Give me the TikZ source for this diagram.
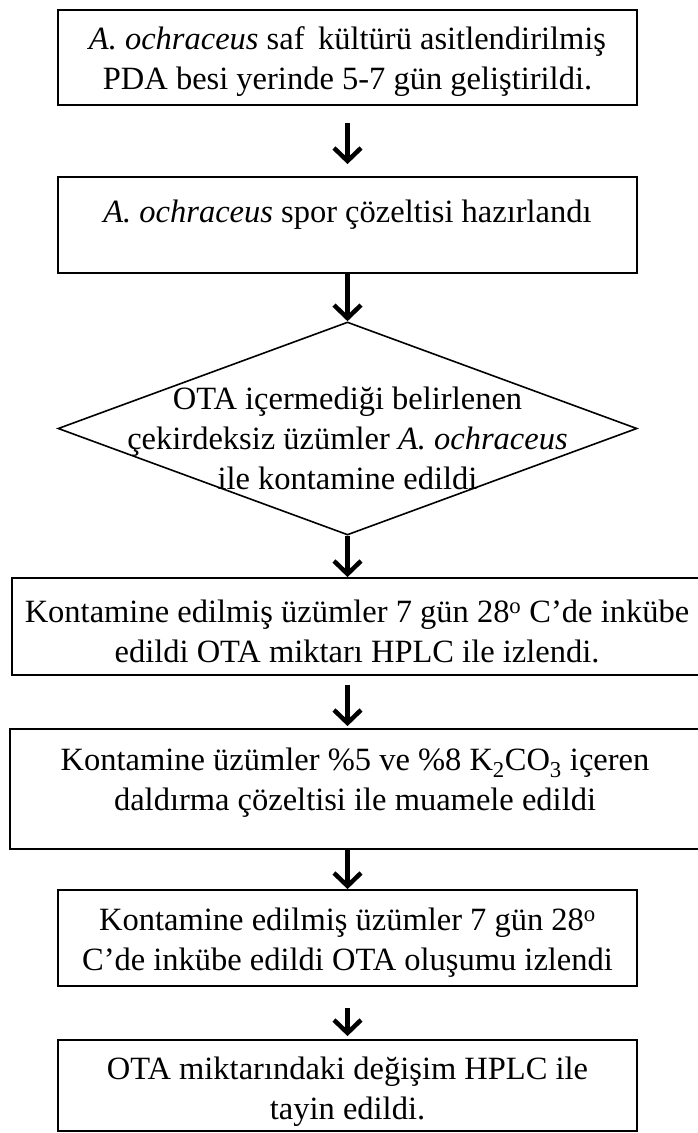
\documentclass[tikz,border=0pt]{standalone}
\usepackage{fontspec}
\setmainfont{Liberation Serif}
\usetikzlibrary{shapes.geometric,arrows.meta}
\begin{document}
\begin{tikzpicture}[
  x=1pt, y=-1pt,
  box/.style={rectangle, draw, line width=1.8pt, minimum width=579pt, minimum height=95pt, align=center, inner sep=0pt, text height=72pt},
  dec/.style={diamond, draw, line width=1.6pt, minimum width=579pt, minimum height=213pt, inner sep=0pt},
  flow/.style={line width=4.5pt, -{Straight Barb[length=13pt, width=27pt]}},
  font=\fontsize{32.5}{40}\selectfont
]
  \useasboundingbox (0,0) rectangle (698,1133);
  \node[box] (b1) at (347.5,57.5) {\textit{A. ochraceus} saf\, kültürü asitlendirilmiş\\PDA besi yerinde 5-7 gün geliştirildi.};
  \node[box, minimum height=96pt, text height=32pt, text depth=37pt] (b2) at (347.5,225) {\textit{A. ochraceus} spor çözeltisi hazırlandı};
  \node[dec] (d) at (347.5,428.5) {};
  \node[align=center] (dt) at (347.5,438) {OTA içermediği belirlenen\\çekirdeksiz üzümler \textit{A. ochraceus}\\ile kontamine edildi};
  \node[box, minimum width=690pt, minimum height=97pt] (b3) at (357,626.5) {Kontamine edilmiş üzümler 7 gün 28\textsuperscript{o} C’de inkübe\\edildi OTA miktarı HPLC ile izlendi.};
  \node[box, minimum width=690pt, minimum height=120pt, text height=68pt, text depth=25pt] (b4) at (355,789) {Kontamine üzümler \%5 ve \%8 K\textsubscript{2}CO\textsubscript{3} içeren\\daldırma çözeltisi ile muamele edildi};
  \node[box, minimum height=96pt] (b5) at (347.5,938) {Kontamine edilmiş üzümler 7 gün 28\textsuperscript{o}\\C’de inkübe edildi OTA oluşumu izlendi};
  \node[box, minimum height=91pt, text height=74pt] (b6) at (347.5,1085.5) {OTA miktarındaki değişim HPLC ile\\tayin edildi.};
  % steps
  \draw[flow, shorten <=17pt, shorten >=12pt] (b1.south) -- (b1.south |- b2.north);
  \draw[flow] (b2.south) -- (b2.south |- d.north);
  \draw[flow] (d.south) -- (d.south |- b3.north);
  \draw[flow, shorten <=9pt, shorten >=2pt] (d.south |- b3.south) -- (d.south |- b4.north);
  \draw[flow] (d.south |- b4.south) -- (d.south |- b5.north);
  \draw[flow, shorten <=21pt, shorten >=3pt] (b5.south) -- (b5.south |- b6.north);
\end{tikzpicture}
\end{document}
